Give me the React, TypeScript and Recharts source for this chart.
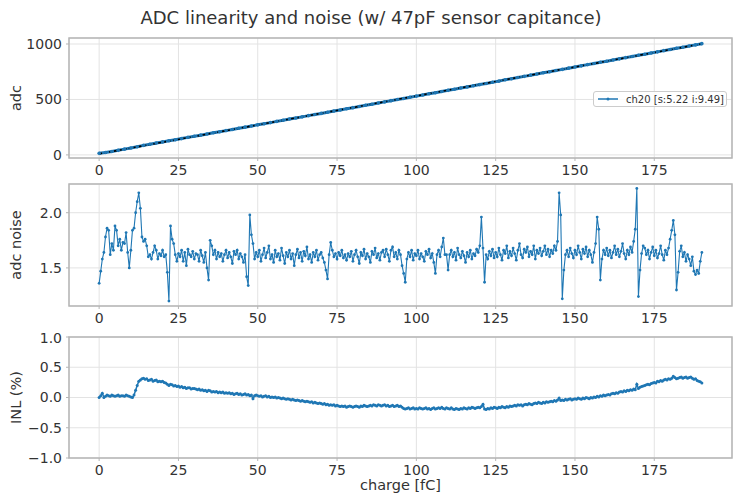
import { LineChart, Line, XAxis, YAxis, CartesianGrid, ReferenceArea } from 'recharts';

const TITLE = 'ADC linearity and noise (w/ 47pF sensor capitance)';
const SERIES_NAME = 'ch20 [s:5.22 i:9.49]';
const X_TICKS = [0, 25, 50, 75, 100, 125, 150, 175];
const X_MIN = -9.5;
const X_MAX = 199.5;

// adc counts every 2 fC
const ADC = [
  14, 22, 31, 41, 52, 62, 73, 86, 96, 107, 117, 127, 137, 147, 158, 168, 178, 188, 199, 209,
  219, 229, 240, 250, 260, 271, 281, 291, 302, 312, 323, 333, 343, 354, 364, 374, 385, 395, 405, 416,
  426, 437, 447, 457, 468, 478, 489, 499, 509, 520, 530, 540, 551, 561, 572, 582, 592, 603, 613, 624,
  634, 644, 655, 665, 677, 687, 698, 708, 719, 729, 740, 750, 761, 771, 782, 793, 803, 814, 824, 835,
  845, 856, 866, 877, 887, 898, 908, 919, 929, 940, 950, 961, 971, 982, 992, 1003,
];
const FIT_CHARGE = [0, 190];
const FIT_ADC = [9.49, 1001.3];

// adc noise every 0.5 fC
const NOISE = [
  1.36, 1.47, 1.58, 1.64, 1.78, 1.86, 1.84, 1.62, 1.72, 1.66, 1.88, 1.84, 1.70, 1.76, 1.66, 1.73, 1.72, 1.82, 1.64, 1.50,
  1.66, 1.84, 1.86, 2.00, 2.10, 2.18, 2.04, 1.78, 1.74, 1.76, 1.70, 1.60, 1.62, 1.58, 1.64, 1.70, 1.66, 1.58, 1.63, 1.61,
  1.66, 1.60, 1.62, 1.46, 1.20, 1.88, 1.76, 1.72, 1.62, 1.56, 1.63, 1.60, 1.66, 1.56, 1.64, 1.52, 1.67, 1.62, 1.60, 1.65,
  1.58, 1.63, 1.62, 1.56, 1.66, 1.61, 1.55, 1.64, 1.50, 1.39, 1.75, 1.70, 1.62, 1.66, 1.58, 1.64, 1.60, 1.63, 1.56, 1.62,
  1.66, 1.59, 1.64, 1.60, 1.54, 1.65, 1.62, 1.66, 1.58, 1.63, 1.60, 1.55, 1.62, 1.42, 1.34, 1.98, 1.80, 1.72, 1.58, 1.64,
  1.60, 1.66, 1.56, 1.62, 1.68, 1.59, 1.64, 1.70, 1.58, 1.62, 1.55, 1.66, 1.60, 1.63, 1.57, 1.68, 1.61, 1.54, 1.64, 1.60,
  1.66, 1.58, 1.63, 1.52, 1.62, 1.67, 1.59, 1.64, 1.56, 1.65, 1.61, 1.69, 1.58, 1.62, 1.55, 1.64, 1.60, 1.66, 1.57, 1.62,
  1.64, 1.59, 1.55, 1.48, 1.40, 1.62, 1.73, 1.66, 1.60, 1.63, 1.58, 1.64, 1.61, 1.66, 1.59, 1.62, 1.57, 1.63, 1.60, 1.65,
  1.56, 1.62, 1.66, 1.60, 1.54, 1.64, 1.61, 1.67, 1.58, 1.63, 1.60, 1.55, 1.65, 1.62, 1.68, 1.59, 1.63, 1.57, 1.64, 1.66,
  1.60, 1.67, 1.62, 1.56, 1.66, 1.69, 1.60, 1.64, 1.58, 1.66, 1.62, 1.52, 1.45, 1.37, 1.58, 1.64, 1.60, 1.66, 1.57, 1.63,
  1.61, 1.66, 1.58, 1.63, 1.60, 1.56, 1.65, 1.62, 1.67, 1.59, 1.63, 1.55, 1.45, 1.62, 1.66, 1.60, 1.69, 1.77, 1.62, 1.62,
  1.48, 1.62, 1.66, 1.60, 1.64, 1.57, 1.68, 1.62, 1.59, 1.65, 1.61, 1.55, 1.64, 1.60, 1.66, 1.58, 1.63, 1.61, 1.67, 1.64,
  1.70, 1.96, 1.68, 1.37, 1.62, 1.58, 1.65, 1.61, 1.67, 1.59, 1.64, 1.60, 1.68, 1.62, 1.57, 1.66, 1.63, 1.70, 1.59, 1.65,
  1.61, 1.68, 1.63, 1.57, 1.66, 1.72, 1.62, 1.59, 1.67, 1.64, 1.69, 1.60, 1.65, 1.62, 1.70, 1.58, 1.66, 1.63, 1.68, 1.61,
  1.65, 1.70, 1.62, 1.67, 1.60, 1.66, 1.63, 1.70, 1.66, 1.74, 2.18, 1.98, 1.22, 1.48, 1.62, 1.66, 1.60, 1.68, 1.63, 1.59,
  1.66, 1.62, 1.70, 1.64, 1.58, 1.67, 1.63, 1.69, 1.60, 1.66, 1.62, 1.55, 1.64, 1.72, 1.96, 1.85, 1.39, 1.58, 1.66, 1.62,
  1.68, 1.61, 1.66, 1.59, 1.64, 1.70, 1.62, 1.67, 1.60, 1.65, 1.72, 1.63, 1.58, 1.66, 1.62, 1.69, 1.64, 1.74, 1.85, 2.22,
  1.24, 1.48, 1.63, 1.70, 1.68, 1.62, 1.66, 1.58, 1.64, 1.69, 1.61, 1.66, 1.59, 1.63, 1.70, 1.62, 1.57, 1.66, 1.62, 1.68,
  1.76, 1.84, 1.93, 1.80, 1.30, 1.46, 1.65, 1.70, 1.60, 1.64, 1.56, 1.62, 1.58, 1.52, 1.60, 1.47, 1.44, 1.48, 1.45, 1.56,
  1.64,
];

// INL in % every 0.5 fC
const INL = [
  0.00, 0.03, 0.07, 0.00, 0.02, 0.04, 0.03, 0.02, 0.04, 0.03, 0.02, 0.03, 0.04, 0.02, 0.03, 0.03, 0.02, 0.04, 0.03, 0.02,
  0.01, 0.00, 0.04, 0.12, 0.20, 0.27, 0.29, 0.31, 0.32, 0.30, 0.31, 0.28, 0.29, 0.30, 0.27, 0.28, 0.29, 0.26, 0.27, 0.26,
  0.27, 0.25, 0.24, 0.22, 0.20, 0.22, 0.21, 0.19, 0.20, 0.18, 0.19, 0.17, 0.18, 0.16, 0.17, 0.15, 0.16, 0.16, 0.14, 0.15,
  0.15, 0.14, 0.13, 0.14, 0.12, 0.13, 0.11, 0.12, 0.10, 0.12, 0.11, 0.09, 0.10, 0.09, 0.10, 0.08, 0.09, 0.08, 0.09, 0.07,
  0.08, 0.07, 0.08, 0.06, 0.07, 0.05, 0.06, 0.07, 0.05, 0.06, 0.04, 0.05, 0.06, 0.04, 0.05, 0.03, 0.04, -0.02, 0.03, 0.04,
  0.03, 0.02, 0.03, 0.01, 0.02, 0.03, 0.01, 0.02, 0.00, 0.01, 0.00, 0.01, -0.01, 0.00, -0.01, -0.02, -0.01, -0.02, -0.03, -0.02,
  -0.03, -0.04, -0.03, -0.04, -0.05, -0.04, -0.05, -0.06, -0.05, -0.06, -0.07, -0.06, -0.07, -0.08, -0.07, -0.09, -0.08, -0.09, -0.10, -0.09,
  -0.10, -0.11, -0.10, -0.12, -0.11, -0.13, -0.12, -0.13, -0.12, -0.14, -0.13, -0.14, -0.15, -0.14, -0.15, -0.14, -0.16, -0.15, -0.14, -0.15,
  -0.16, -0.15, -0.14, -0.15, -0.16, -0.14, -0.15, -0.13, -0.14, -0.15, -0.14, -0.13, -0.14, -0.12, -0.13, -0.14, -0.12, -0.13, -0.14, -0.13,
  -0.12, -0.14, -0.13, -0.15, -0.14, -0.13, -0.15, -0.14, -0.13, -0.15, -0.14, -0.16, -0.18, -0.19, -0.18, -0.17, -0.19, -0.18, -0.17, -0.19,
  -0.18, -0.19, -0.17, -0.18, -0.19, -0.18, -0.17, -0.19, -0.18, -0.20, -0.18, -0.17, -0.19, -0.18, -0.17, -0.18, -0.16, -0.18, -0.19, -0.17,
  -0.18, -0.19, -0.17, -0.19, -0.20, -0.18, -0.19, -0.20, -0.18, -0.19, -0.17, -0.18, -0.19, -0.17, -0.18, -0.16, -0.17, -0.18, -0.17, -0.16,
  -0.17, -0.15, -0.11, -0.19, -0.20, -0.18, -0.19, -0.17, -0.18, -0.16, -0.17, -0.18, -0.16, -0.17, -0.15, -0.16, -0.17, -0.15, -0.16, -0.14,
  -0.15, -0.14, -0.13, -0.14, -0.12, -0.13, -0.12, -0.14, -0.12, -0.11, -0.12, -0.10, -0.11, -0.12, -0.10, -0.09, -0.10, -0.08, -0.09, -0.10,
  -0.08, -0.09, -0.07, -0.08, -0.07, -0.06, -0.07, -0.05, -0.06, -0.04, -0.01, -0.05, -0.04, -0.05, -0.03, -0.04, -0.03, -0.02, -0.04, -0.03,
  -0.02, -0.03, -0.01, -0.02, -0.03, -0.01, -0.02, 0.00, -0.01, -0.02, 0.00, -0.01, 0.01, 0.00, 0.02, 0.01, 0.03, 0.02, 0.04, 0.03,
  0.04, 0.05, 0.04, 0.06, 0.07, 0.06, 0.08, 0.07, 0.09, 0.10, 0.09, 0.11, 0.10, 0.12, 0.11, 0.13, 0.12, 0.14, 0.13, 0.22,
  0.15, 0.17, 0.18, 0.19, 0.20, 0.21, 0.22, 0.21, 0.23, 0.24, 0.25, 0.24, 0.27, 0.26, 0.28, 0.27, 0.29, 0.30, 0.29, 0.31,
  0.30, 0.32, 0.35, 0.33, 0.31, 0.32, 0.33, 0.34, 0.32, 0.33, 0.34, 0.32, 0.33, 0.34, 0.32, 0.30, 0.31, 0.28, 0.27, 0.26,
  0.24,
];

const BLUE = '#1f77b4';
const TEXT = '#333333';
const GRID = '#e3e3e3';
const FRAME = '#b5b5b5';
const FONT = '"DejaVu Sans", sans-serif';

const adcData = ADC.map((adc, i) => ({ q: i * 2, adc }));
const fitData = FIT_CHARGE.map((q, i) => ({ q, fit: FIT_ADC[i] }));
const noiseData = NOISE.map((noise, i) => ({ q: i * 0.5, noise }));
const inlData = INL.map((inl, i) => ({ q: i * 0.5, inl }));

const fmt1 = (v: number) => v.toFixed(1).replace('-', '\u2212');

const tickStyle = { fill: TEXT, fontSize: 14, fontFamily: FONT };

const yLabel = (text: string) => (props: any) => {
  const vb = props.viewBox || {};
  const cy = vb.y + vb.height / 2;
  return (
    <text
      x={16}
      y={cy}
      transform={`rotate(-90, 16, ${cy})`}
      textAnchor="middle"
      dominantBaseline="central"
      fill={TEXT}
      fontSize={14.5}
      fontFamily={FONT}
    >
      {text}
    </text>
  );
};

function xAxis(height: number, label?: string) {
  return (
    <XAxis
      dataKey="q"
      type="number"
      domain={[X_MIN, X_MAX]}
      ticks={X_TICKS}
      allowDataOverflow
      height={height}
      axisLine={false}
      tickSize={3}
      tickMargin={4}
      tickLine={{ stroke: FRAME }}
      tick={tickStyle}
      label={
        label
          ? { value: label, position: 'insideBottom', offset: 4, fill: TEXT, fontSize: 14.5, fontFamily: FONT }
          : undefined
      }
    />
  );
}

export default function App() {
  return (
    <div
      style={{
        position: 'absolute',
        left: 0,
        top: 0,
        width: 733,
        height: 494,
        background: '#ffffff',
        fontFamily: FONT,
        overflow: 'hidden',
      }}
    >
      <div
        style={{
          position: 'absolute',
          left: 0,
          top: 6,
          width: 742,
          textAlign: 'center',
          fontSize: 18,
          lineHeight: '24px',
          color: TEXT,
        }}
      >
        {TITLE}
      </div>

      {/* adc vs charge */}
      <div style={{ position: 'absolute', left: 0, top: 0 }}>
        <LineChart width={733} height={180} margin={{ top: 38, right: 1, bottom: 0, left: 0 }}>
          <CartesianGrid stroke={GRID} />
          {xAxis(22)}
          <YAxis
            type="number"
            domain={[-28, 1054]}
            ticks={[0, 500, 1000]}
            allowDataOverflow
            width={69}
            axisLine={false}
            tickSize={3}
            tickMargin={4}
            tickLine={{ stroke: FRAME }}
            tick={tickStyle}
            label={{ content: yLabel('adc') }}
          />
          <ReferenceArea x1={X_MIN} x2={X_MAX} y1={-28} y2={1054} fill="none" stroke={FRAME} strokeWidth={1.5} ifOverflow="visible" />
          <Line data={adcData} dataKey="adc" name={SERIES_NAME} type="linear" stroke={BLUE} strokeWidth={3}
            dot={{ r: 1.8, fill: BLUE, stroke: 'none' }} isAnimationActive={false} />
          <Line data={fitData} dataKey="fit" type="linear" stroke="#000000" strokeWidth={1.6}
            strokeDasharray="3 2" dot={false} isAnimationActive={false} />
        </LineChart>
      </div>

      {/* legend of the top panel */}
      <div
        style={{
          position: 'absolute',
          left: 593,
          top: 91,
          width: 132,
          height: 14,
          border: '1px solid #cccccc',
          borderRadius: 3,
          background: 'rgba(255,255,255,0.85)',
          display: 'flex',
          alignItems: 'center',
          fontSize: 10,
          color: TEXT,
          whiteSpace: 'nowrap',
        }}
      >
        <svg width={30} height={14}>
          <line x1={4} y1={7} x2={24} y2={7} stroke={BLUE} strokeWidth={1.5} />
          <circle cx={14} cy={7} r={1.5} fill={BLUE} />
        </svg>
        <span style={{ marginLeft: 2 }}>{SERIES_NAME}</span>
      </div>

      {/* adc noise */}
      <div style={{ position: 'absolute', left: 0, top: 180 }}>
        <LineChart width={733} height={150} margin={{ top: 4, right: 1, bottom: 2, left: 0 }}>
          <CartesianGrid stroke={GRID} />
          {xAxis(22)}
          <YAxis
            type="number"
            domain={[1.155, 2.26]}
            ticks={[1.5, 2.0]}
            allowDataOverflow
            width={69}
            axisLine={false}
            tickSize={3}
            tickMargin={4}
            tickLine={{ stroke: FRAME }}
            tick={tickStyle}
            tickFormatter={fmt1}
            label={{ content: yLabel('adc noise') }}
          />
          <ReferenceArea x1={X_MIN} x2={X_MAX} y1={1.155} y2={2.26} fill="none" stroke={FRAME} strokeWidth={1.5} ifOverflow="visible" />
          <Line data={noiseData} dataKey="noise" type="linear" stroke={BLUE} strokeWidth={1.1}
            dot={{ r: 1.4, fill: BLUE, stroke: 'none' }} isAnimationActive={false} />
        </LineChart>
      </div>

      {/* INL */}
      <div style={{ position: 'absolute', left: 0, top: 330 }}>
        <LineChart width={733} height={164} margin={{ top: 7, right: 1, bottom: 0, left: 0 }}>
          <CartesianGrid stroke={GRID} />
          {xAxis(36, 'charge [fC]')}
          <YAxis
            type="number"
            domain={[-1, 1]}
            ticks={[-1, -0.5, 0, 0.5, 1]}
            allowDataOverflow
            width={69}
            axisLine={false}
            tickSize={3}
            tickMargin={4}
            tickLine={{ stroke: FRAME }}
            tick={tickStyle}
            tickFormatter={fmt1}
            label={{ content: yLabel('INL (%)') }}
          />
          <ReferenceArea x1={X_MIN} x2={X_MAX} y1={-1} y2={1} fill="none" stroke={FRAME} strokeWidth={1.5} ifOverflow="visible" />
          <Line data={inlData} dataKey="inl" type="linear" stroke={BLUE} strokeWidth={1.5}
            dot={{ r: 1.5, fill: BLUE, stroke: 'none' }} isAnimationActive={false} />
        </LineChart>
      </div>
    </div>
  );
}
